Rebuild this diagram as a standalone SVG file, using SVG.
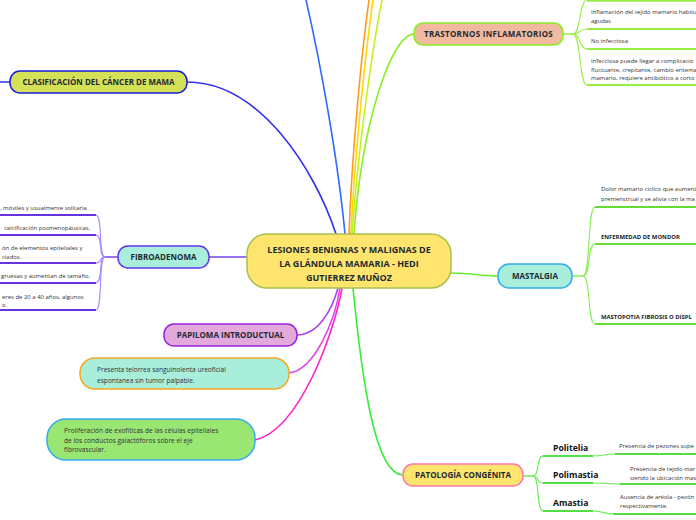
<svg xmlns="http://www.w3.org/2000/svg" width="696" height="520" viewBox="0 0 696 520">
<style>
text{font-family:"Open Sans","Noto Sans","Liberation Sans",sans-serif}
.c{fill:none;stroke-width:1.6;stroke-linecap:round}
.s{fill:none;stroke-width:1.1}
.u{fill:none;stroke-width:1.8}
.lb{font-weight:bold;font-size:8px;fill:#1e2a30;text-anchor:middle}
.t{font-size:5.95px;fill:#333}
.tb{font-size:5.9px;fill:#222;font-weight:bold}
.sub{font-size:8.6px;fill:#111;font-weight:bold}
.n{font-size:6.6px;fill:#333}
</style>
<rect width="696" height="520" fill="#ffffff"/>
<g id="connectors">
<path class="c" stroke="#3333ee" d="M187 82 C260 82 315 170 336 234"/>
<path class="c" stroke="#3333ee" d="M0 82 L10 82"/>
<path class="c" stroke="#2f6bff" d="M345 234 C338 160 320 60 306 0"/>
<path class="c" stroke="#ff9a1a" d="M349 234 C352 150 362 50 369 0"/>
<path class="c" stroke="#ffd800" d="M351 234 C355 150 366 50 373 0"/>
<path class="c" stroke="#c8ee20" d="M352 234 C358 150 372 50 382 0"/>
<path class="c" stroke="#8aee22" d="M354 234 C362 120 392 34 414 34"/>
<path class="c" stroke="#7744ee" d="M209 257 L247 257"/>
<path class="c" stroke="#aa44ee" d="M297 335 C318 335 332 310 338 288"/>
<path class="c" stroke="#dd44ee" d="M289 373 C315 370 335 320 340 288"/>
<path class="c" stroke="#ff22cc" d="M255 440 C300 430 335 330 342 288"/>
<path class="c" stroke="#66ee33" d="M451 273 C470 273 480 276 498 276"/>
<path class="c" stroke="#33ee33" d="M353 288 C362 380 375 475 403 475"/>
<g stroke="#99ee44">
<path class="c" d="M563 34 L573 34"/>
<path class="s" d="M573 34 C581 34 579 0 587 0"/>
<path class="s" d="M573 34 C581 34 579 29 587 29"/>
<path class="s" d="M573 34 C581 34 579 49 587 49"/>
<path class="s" d="M573 34 C581 34 579 85 587 85"/>
<path class="u" d="M587 0.8 L696 0.8 M587 29 L696 29 M587 49 L696 49 M587 85 L696 85"/>
</g>
<g>
<path class="c" stroke="#7744ee" d="M118 257 L105 257"/>
<g stroke="#aa88ff">
<path class="s" d="M105 257 C98 257 103 215 96 215"/>
<path class="s" d="M105 257 C98 257 103 235 96 235"/>
<path class="s" d="M105 257 C98 257 103 263 96 263"/>
<path class="s" d="M105 257 C98 257 103 283 96 283"/>
<path class="s" d="M105 257 C98 257 103 310 96 310"/>
</g>
<path class="u" stroke="#6633dd" d="M0 215 L96 215 M0 235 L96 235 M0 263 L96 263 M0 283 L96 283 M0 310 L96 310"/>
</g>
<g stroke="#88ee55">
<path class="c" d="M572 276 L583 276"/>
<path class="s" d="M583 276 C591 276 587 207 595 207"/>
<path class="s" d="M583 276 C591 276 587 244 595 244"/>
<path class="s" d="M583 276 C591 276 587 324 595 324"/>
<path class="u" stroke="#66dd33" d="M595 207 L696 207 M595 244 L696 244 M595 324 L696 324"/>
</g>
<g stroke="#66ee55">
<path class="c" d="M523 476 L533 476"/>
<path class="s" d="M533 476 C540 476 536 456 543 456"/>
<path class="s" d="M533 476 C540 476 536 483 543 483"/>
<path class="s" d="M533 476 C540 476 536 511 543 511"/>
<path class="u" stroke="#55dd44" d="M543 456 L593 456 M543 483 L593 483 M543 511 L593 511"/>
<path class="s" stroke-width="1.4" d="M593 456 C603 456 605 454 615 454 M593 483 C605 483 610 484 620 484 M593 511 C603 511 605 514 613 514"/>
<path class="u" stroke="#55dd44" d="M615 454 L696 454 M620 484 L696 484 M613 514 L696 514"/>
</g>
</g>
<g id="central">
<rect x="247" y="234" width="204" height="54" rx="20" fill="#ffe56e" stroke="#a8c04c" stroke-width="1.5"/>
<text class="lb" style="font-size:9px" x="349" y="253">LESIONES BENIGNAS Y MALIGNAS DE</text>
<text class="lb" style="font-size:9px" x="349" y="267">LA GLÁNDULA MAMARIA - HEDI</text>
<text class="lb" style="font-size:9px" x="349" y="280.5">GUTIERREZ MUÑOZ</text>
</g>
<g id="clasificacion">
<rect x="10" y="71" width="177" height="22" rx="10" fill="#d4e157" stroke="#1a1adb" stroke-width="1.5"/>
<text class="lb" x="98.5" y="85">CLASIFICACIÓN DEL CÁNCER DE MAMA</text>
</g>
<g id="trastornos">
<rect x="414" y="23" width="149" height="22" rx="9" fill="#f0b9a0" stroke="#88ee22" stroke-width="1.5"/>
<text class="lb" x="488.5" y="37" letter-spacing="0.3">TRASTORNOS INFLAMATORIOS</text>
<text class="t" x="591" y="14">Inflamación del tejido mamario habitu</text>
<text class="t" x="591" y="23">agudas</text>
<text class="t" x="591" y="43">No infecciosa</text>
<text class="t" x="591" y="63">Infecciosa puede llegar a complicacio</text>
<text class="t" x="591" y="71.5">fluctuante, crepitante, cambio eritema</text>
<text class="t" x="591" y="80">mamario, requiere antibiótico a corto</text>
</g>
<g id="fibroadenoma">
<rect x="118" y="246" width="91" height="22" rx="10" fill="#a8eedb" stroke="#6633ee" stroke-width="1.5"/>
<text class="lb" x="163.5" y="260">FIBROADENOMA</text>
<text class="t" x="0" y="210">, móviles y usualmente solitaria</text>
<text class="t" x="4" y="230">calcificación posmenopáusicas.</text>
<text class="t" x="2" y="250">ón de elementos epiteliales y</text>
<text class="t" x="2" y="259">ciados.</text>
<text class="t" x="1" y="278">gruesas y aumentan de tamaño.</text>
<text class="t" x="2" y="299">eres de 20 a 40 años, algunos</text>
<text class="t" x="2" y="307">o.</text>
</g>
<g id="papiloma">
<rect x="164" y="324" width="133" height="22" rx="10" fill="#e3a8dc" stroke="#9922dd" stroke-width="1.5"/>
<text class="lb" x="230.5" y="338">PAPILOMA INTRODUCTUAL</text>
</g>
<g id="telorrea">
<rect x="80" y="358" width="209" height="31" rx="15" fill="#a8eedb" stroke="#f5a623" stroke-width="1.5"/>
<text class="n" x="97" y="372">Presenta telorrea sanguinolenta ureoficial</text>
<text class="n" x="97" y="383">espontanea sin tumor palpable.</text>
</g>
<g id="proliferacion">
<rect x="47" y="419" width="208" height="41" rx="19" fill="#99e673" stroke="#33aaee" stroke-width="1.5"/>
<text class="n" x="64" y="433">Proliferación de exofíticas de las células epiteliales</text>
<text class="n" x="64" y="442.5">de los conductos galactóforos sobre el eje</text>
<text class="n" x="64" y="452">fibrovascular.</text>
</g>
<g id="mastalgia">
<rect x="498" y="264" width="74" height="24" rx="11" fill="#a8eedb" stroke="#33aaee" stroke-width="1.5"/>
<text class="lb" x="535" y="279">MASTALGIA</text>
<text class="t" x="601" y="191">Dolor mamario cíclico que aument</text>
<text class="t" x="601" y="201">premenstrual y se alivia con la ma</text>
<text class="tb" x="601" y="239">ENFERMEDAD DE MONDOR</text>
<text class="tb" x="601" y="319">MASTOPOTIA FIBROSIS O DISPL</text>
</g>
<g id="patologia">
<rect x="403" y="464" width="120" height="22" rx="10" fill="#ffe56e" stroke="#ff77aa" stroke-width="1.5"/>
<text class="lb" x="463" y="478">PATOLOGÍA CONGÉNITA</text>
<text class="sub" x="553" y="451">Politelia</text>
<text class="sub" x="553" y="477.5">Polimastia</text>
<text class="sub" x="553" y="506">Amastia</text>
<text class="t" x="619" y="448">Presencia de pezones supe</text>
<text class="t" x="630" y="471">Presencia de tejido mar</text>
<text class="t" x="630" y="480">siendo la ubicación mas</text>
<text class="t" x="620" y="499">Ausencia de aréola - pezón</text>
<text class="t" x="620" y="508">respectivamente.</text>
</g>
</svg>
